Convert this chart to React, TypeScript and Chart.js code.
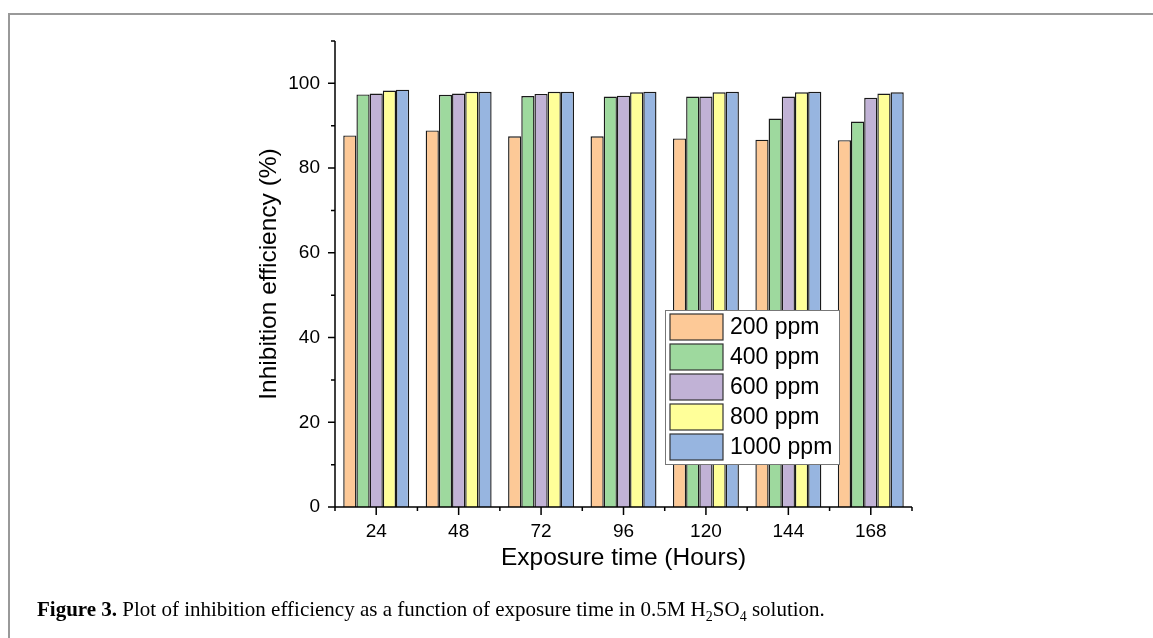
import React, { useEffect, useRef } from 'react';
import { Chart, registerables } from 'chart.js';

Chart.register(...registerables);

const categories = ['24', '48', '72', '96', '120', '144', '168'];
const seriesLabels = ['200 ppm', '400 ppm', '600 ppm', '800 ppm', '1000 ppm'];
const ppm200 = [87.7, 88.9, 87.5, 87.5, 87.0, 86.7, 86.6];
const ppm400 = [97.4, 97.3, 97.0, 96.9, 96.9, 91.7, 91.0];
const ppm600 = [97.6, 97.6, 97.5, 97.1, 96.9, 96.9, 96.6];
const ppm800 = [98.3, 98.0, 98.0, 97.9, 97.9, 97.9, 97.6];
const ppm1000 = [98.5, 98.0, 98.0, 98.0, 98.0, 98.0, 97.9];
const seriesColors = ['#FDC997', '#9ED99E', '#C1B2D6', '#FFFF99', '#97B5E0'];
const yTickValues = [0, 20, 40, 60, 80, 100];
const yMinorValues = [10, 30, 50, 70, 90, 110];

const FONT = "'Liberation Sans', Arial, sans-serif";

const axesPlugin = {
  id: 'originAxes',
  afterDatasetsDraw(chart: any) {
    const ctx = chart.ctx;
    const x = chart.scales.x;
    const y = chart.scales.y;
    const area = chart.chartArea;
    ctx.save();
    ctx.strokeStyle = '#000';
    ctx.lineWidth = 1.5;
    ctx.beginPath();
    ctx.moveTo(area.left, y.getPixelForValue(110));
    ctx.lineTo(area.left, area.bottom);
    ctx.lineTo(area.right, area.bottom);
    yTickValues.forEach((v) => {
      const py = y.getPixelForValue(v);
      ctx.moveTo(area.left, py);
      ctx.lineTo(area.left - 7, py);
    });
    yMinorValues.forEach((v) => {
      const py = y.getPixelForValue(v);
      ctx.moveTo(area.left, py);
      ctx.lineTo(area.left - 4, py);
    });
    const n = categories.length;
    for (let i = 0; i < n; i++) {
      const px = x.getPixelForValue(i);
      ctx.moveTo(px, area.bottom);
      ctx.lineTo(px, area.bottom + 8);
    }
    for (let i = 0; i <= n; i++) {
      const px = x.getPixelForValue(i - 0.5);
      ctx.moveTo(px, area.bottom);
      ctx.lineTo(px, area.bottom + 4);
    }
    ctx.stroke();
    ctx.restore();
  },
};

const legendPlugin = {
  id: 'insideLegend',
  afterDraw(chart: any) {
    const ctx = chart.ctx;
    const left = 665;
    const top = 310;
    const width = 174;
    const height = 154;
    ctx.save();
    ctx.fillStyle = '#fff';
    ctx.fillRect(left, top, width, height);
    ctx.strokeStyle = '#777';
    ctx.lineWidth = 1;
    ctx.strokeRect(left + 0.5, top + 0.5, width, height);
    ctx.font = `23px ${FONT}`;
    ctx.textBaseline = 'middle';
    ctx.textAlign = 'left';
    chart.data.datasets.forEach((ds: any, i: number) => {
      const sy = top + 4 + i * 30;
      ctx.fillStyle = ds.backgroundColor;
      ctx.fillRect(left + 5, sy, 53, 26);
      ctx.strokeStyle = '#333';
      ctx.lineWidth = 1.2;
      ctx.strokeRect(left + 5, sy, 53, 26);
      ctx.fillStyle = '#000';
      ctx.fillText(ds.label, left + 65, sy + 14);
    });
    ctx.restore();
  },
};

export default function App() {
  const canvasRef = useRef<HTMLCanvasElement | null>(null);

  useEffect(() => {
    if (!canvasRef.current) return;
    const allSeries = [ppm200, ppm400, ppm600, ppm800, ppm1000];
    const chart = new Chart(canvasRef.current, {
      type: 'bar',
      data: {
        labels: categories,
        datasets: allSeries.map((d, i) => ({
          label: seriesLabels[i],
          data: d,
          backgroundColor: seriesColors[i],
          borderColor: '#1a1a1a',
          borderWidth: 1.4,
          barPercentage: 1,
          categoryPercentage: 0.8,
        })),
      },
      options: {
        animation: false,
        responsive: false,
        devicePixelRatio: 1,
        layout: { padding: { left: 235, right: 241, top: 41, bottom: 61 } },
        plugins: { legend: { display: false }, tooltip: { enabled: false } },
        scales: {
          x: {
            offset: true,
            grid: { display: false, drawTicks: false },
            border: { display: false },
            ticks: { color: '#000', font: { family: FONT, size: 19 }, padding: 13, maxRotation: 0 },
            title: {
              display: true,
              text: 'Exposure time (Hours)',
              color: '#000',
              font: { family: FONT, size: 24.5 },
              padding: { top: 0, bottom: 4 },
            },
            afterFit: (s: any) => {
              s.height = 70;
            },
          },
          y: {
            min: 0,
            max: 110,
            grid: { display: false, drawTicks: false },
            border: { display: false },
            afterBuildTicks: (s: any) => {
              s.ticks = yTickValues.map((v) => ({ value: v }));
            },
            ticks: { color: '#000', font: { family: FONT, size: 19 }, padding: 15 },
            title: {
              display: true,
              text: 'Inhibition efficiency (%)',
              color: '#000',
              font: { family: FONT, size: 24.5 },
              padding: { top: 20, bottom: 0 },
            },
            afterFit: (s: any) => {
              s.width = 100;
            },
          },
        },
      },
      plugins: [axesPlugin, legendPlugin],
    });
    return () => chart.destroy();
  }, []);

  return (
    <div style={{ position: 'fixed', left: 0, top: 0, width: 1153, height: 638, background: '#fff', overflow: 'hidden' }}>
      <div
        style={{
          position: 'absolute',
          left: 8,
          top: 13,
          width: 1160,
          height: 640,
          borderTop: '2px solid #999',
          borderLeft: '2px solid #999',
        }}
      />
      <canvas ref={canvasRef} width={1153} height={638} style={{ position: 'absolute', left: 0, top: 0, width: 1153, height: 638 }} />
      <div
        style={{
          position: 'absolute',
          left: 37,
          top: 598,
          fontFamily: "'Liberation Serif', 'Times New Roman', serif",
          fontSize: 21,
          lineHeight: '22px',
          color: '#000',
          whiteSpace: 'nowrap',
        }}
      >
        <b>Figure 3.</b> Plot of inhibition efficiency as a function of exposure time in 0.5M H
        <sub style={{ fontSize: 14 }}>2</sub>SO<sub style={{ fontSize: 14 }}>4</sub> solution.
      </div>
    </div>
  );
}
